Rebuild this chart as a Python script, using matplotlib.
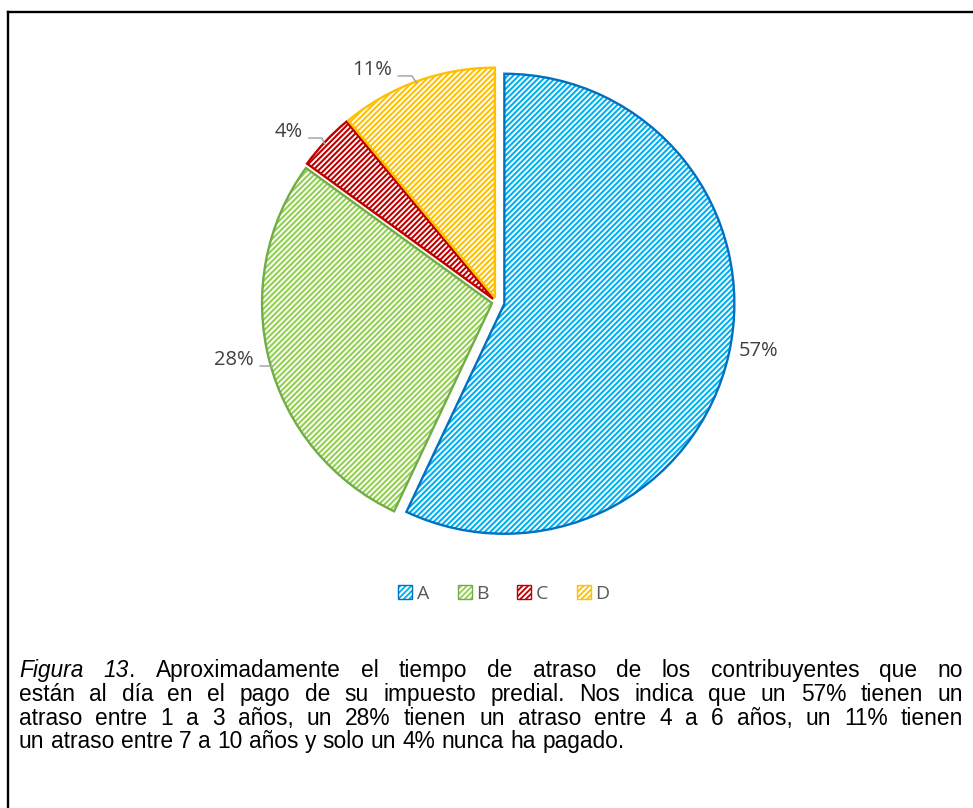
import matplotlib
matplotlib.use('Agg')
import matplotlib.pyplot as plt
from matplotlib.patches import Patch
from matplotlib.lines import Line2D
from matplotlib.legend_handler import HandlerTuple
import numpy as np

# ---- data ----
categories = ['A', 'B', 'C', 'D']
values = [57, 28, 4, 11]
pct_labels = ['57%', '28%', '4%', '11%']

caption_lines = [
    "*Figura* *13*. Aproximadamente el tiempo de atraso de los contribuyentes que no",
    "están al día en el pago de su impuesto predial. Nos indica que un 57% tienen un",
    "atraso entre 1 a 3 años, un 28% tienen un atraso entre 4 a 6 años, un 11% tienen",
    "un atraso entre 7 a 10 años y solo un 4% nunca ha pagado.",
]

# ---- style ----
hatch_colors = ['#00B0F0', '#92D050', '#C00000', '#FFC000']
edge_colors = ['#0070C0', '#70AD47', '#C00000', '#FFC000']
explode = [0.035, 0.02, 0.02, 0.02]
label_r = [1.161, 1.168, 1.166, 1.144]
label_dtheta = [2.0, -1.95, 3.87, 8.3]
leader = [False, True, True, True]
leader_dphi = [0, 2.0, 0.7, 0.2]
leader_r = [0.99, 0.998, 0.991, 0.993]
leader_angleB = [0, 90, 115, 125]

W, H, DPI = 973, 808, 100
plt.rcParams['hatch.linewidth'] = 1.5
fig = plt.figure(figsize=(W / DPI, H / DPI), dpi=DPI)
fig.patch.set_facecolor('white')

# pie axes: centre (px from top-left) and radius in px
cx, cy, R = 496.5, 302, 230
half = 300
ax = fig.add_axes([(cx - half) / W, (H - cy - half) / H, 2 * half / W, 2 * half / H])

fill_w, _ = ax.pie(values, explode=explode, startangle=90, counterclock=False,
                   colors=['white'] * 4, wedgeprops=dict(linewidth=0))
for w, c in zip(fill_w, hatch_colors):
    w.set_edgecolor(c)
    w.set_hatch('//////')
    w.set_linewidth(0)

out_w, _ = ax.pie(values, explode=explode, startangle=90, counterclock=False,
                  wedgeprops=dict(linewidth=1.7, fill=False))
for w, c in zip(out_w, edge_colors):
    w.set_edgecolor(c)
    w.set_facecolor('none')

lim = half / R
ax.set_xlim(-lim, lim)
ax.set_ylim(-lim, lim)
ax.set_aspect('equal')
ax.axis('off')

vals = np.array(values, dtype=float)
starts = 90 - 360 * np.concatenate([[0], np.cumsum(vals)[:-1]]) / vals.sum()
mids = starts - 180 * vals / vals.sum()

lab_fs = 14.5
for i, lab in enumerate(pct_labels):
    a = np.deg2rad(mids[i] + label_dtheta[i])
    tx, ty = label_r[i] * np.cos(a), label_r[i] * np.sin(a)
    m = np.deg2rad(mids[i])
    ex, ey = explode[i] * np.cos(m), explode[i] * np.sin(m)
    if leader[i]:
        b = np.deg2rad(mids[i] + leader_dphi[i])
        px, py = ex + leader_r[i] * np.cos(b), ey + leader_r[i] * np.sin(b)
        ax.annotate(lab, xy=(px, py), xytext=(tx, ty), ha='center', va='center',
                    fontsize=lab_fs, family='Open Sans', color='#404040',
                    arrowprops=dict(arrowstyle='-', color='#A6A6A6', lw=1.1,
                                    shrinkA=2, shrinkB=0, relpos=(1.0, 0.2),
                                    connectionstyle='angle,angleA=0,angleB=%d,rad=0' % leader_angleB[i]))
    else:
        ax.text(tx, ty, lab, ha='center', va='center', fontsize=lab_fs,
                family='Open Sans', color='#404040')

# legend
handles = [(Patch(facecolor=c, edgecolor='white', hatch='//////', linewidth=0),
            Patch(facecolor='none', edgecolor=e, linewidth=1.0))
           for c, e in zip(hatch_colors, edge_colors)]
fig.legend(handles, categories, loc='center', bbox_to_anchor=(504 / W, 1 - 594 / H),
           ncol=4, frameon=False, prop={'family': 'Open Sans', 'size': 14},
           labelcolor='#595959', handlelength=0.72, handleheight=0.72,
           handletextpad=0.25, columnspacing=1.45,
           handler_map={tuple: HandlerTuple(ndivide=1, pad=0)})

# frame (left and top edges visible)
fig.add_artist(Line2D([7.8 / W, 7.8 / W], [0, 1 - 12.2 / H], transform=fig.transFigure,
                      color='black', lw=1.7, solid_capstyle='projecting'))
fig.add_artist(Line2D([7.8 / W, 1], [1 - 12.2 / H, 1 - 12.2 / H], transform=fig.transFigure,
                      color='black', lw=1.7, solid_capstyle='projecting'))

# caption with justified lines
fs = 16.4
x_left, x_right = 19, 963
base0, line_h = 677, 23.8
renderer = fig.canvas.get_renderer()


def parse_word(word):
    parts = word.split('*')
    segs = []
    for k, p in enumerate(parts):
        if p:
            segs.append((p, 'italic' if k % 2 == 1 else 'normal'))
    return segs


for li, line in enumerate(caption_lines):
    y = 1 - (base0 + li * line_h) / H
    words = [parse_word(w) for w in line.split(' ')]
    objs = []
    widths = []
    for segs in words:
        wo = []
        ww = 0
        for s, st in segs:
            t = fig.text(0, y, s, fontsize=fs, family='Liberation Sans', style=st,
                         ha='left', va='baseline', color='black')
            bw = t.get_window_extent(renderer).width
            wo.append((t, ww))
            ww += bw + (0.5 if len(segs) > 1 else 0)
        objs.append(wo)
        widths.append(ww)
    total = sum(widths)
    n_gaps = len(words) - 1
    if li < len(caption_lines) - 1:
        gap = (x_right - x_left - total) / n_gaps
    else:
        sp = fig.text(0, y, 'a a', fontsize=fs, family='Liberation Sans')
        sp2 = fig.text(0, y, 'aa', fontsize=fs, family='Liberation Sans')
        gap = sp.get_window_extent(renderer).width - sp2.get_window_extent(renderer).width
        sp.remove(); sp2.remove()
    x = x_left
    for wo, ww in zip(objs, widths):
        for t, off in wo:
            t.set_x((x + off) / W)
        x += ww + gap

fig.savefig('out.png', dpi=DPI, facecolor='white')
